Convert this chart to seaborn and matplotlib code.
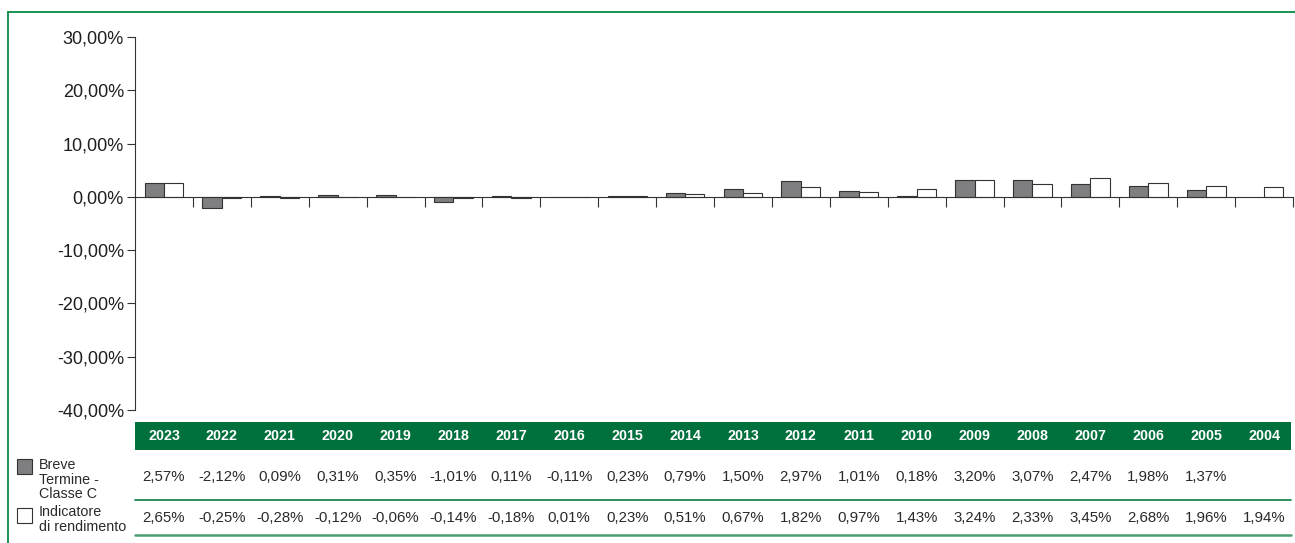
import numpy as np
import pandas as pd
import matplotlib.pyplot as plt
import matplotlib.transforms as mtransforms
from matplotlib.lines import Line2D
from matplotlib.patches import Rectangle
import seaborn as sns

# Dati
anni = ["2023", "2022", "2021", "2020", "2019", "2018", "2017", "2016", "2015", "2014",
        "2013", "2012", "2011", "2010", "2009", "2008", "2007", "2006", "2005", "2004"]
fondo = [2.57, -2.12, 0.09, 0.31, 0.35, -1.01, 0.11, -0.11, 0.23, 0.79,
         1.50, 2.97, 1.01, 0.18, 3.20, 3.07, 2.47, 1.98, 1.37, np.nan]
indicatore = [2.65, -0.25, -0.28, -0.12, -0.06, -0.14, -0.18, 0.01, 0.23, 0.51,
              0.67, 1.82, 0.97, 1.43, 3.24, 2.33, 3.45, 2.68, 1.96, 1.94]
serie = ["Breve\nTermine -\nClasse C", "Indicatore\ndi rendimento"]
y_ticks = [30, 20, 10, 0, -10, -20, -30, -40]

VERDE = "#00703c"
GRIGIO = "#7f7f81"
BORDO = "#333333"

sns.set_theme(style="white")
plt.rcParams["font.family"] = ["Liberation Sans", "DejaVu Sans"]

df = pd.DataFrame({
    "anno": anni * 2,
    "valore": fondo + indicatore,
    "serie": [serie[0]] * len(anni) + [serie[1]] * len(anni),
})

W, H = 1295, 543
fig = plt.figure(figsize=(W / 100, H / 100), dpi=100)


def fx(px):
    return px / W


def fy(px):
    return 1 - px / H


ax = fig.add_axes([fx(135), fy(410), fx(1293) - fx(135), fy(37) - fy(410)])

sns.barplot(data=df, x="anno", y="valore", hue="serie", order=anni,
            palette=[GRIGIO, "white"], width=0.67, edgecolor=BORDO,
            linewidth=0.8, legend=False, ax=ax, saturation=1)

ax.set_xlim(-0.5, len(anni) - 0.5)
ax.set_ylim(-40, 30)
ax.set_yticks(y_ticks)
ax.set_yticklabels([f"{v:.2f}%".replace(".", ",") for v in y_ticks], fontsize=13, color="#1e1e1e")
ax.set_xticks(np.arange(len(anni)) + 0.5)
ax.set_xticklabels([])
ax.set_xlabel("")
ax.set_ylabel("")

for s in ["top", "right"]:
    ax.spines[s].set_visible(False)
ax.spines["left"].set_color(BORDO)
ax.spines["left"].set_linewidth(0.8)
ax.spines["bottom"].set_position(("data", 0))
ax.spines["bottom"].set_color(BORDO)
ax.spines["bottom"].set_linewidth(0.8)
ax.tick_params(axis="y", direction="out", length=6, width=0.8, color=BORDO, pad=2, left=True)
ax.tick_params(axis="x", direction="out", length=7, width=0.8, color=BORDO, bottom=True)

# Tabella sotto il grafico
trans = mtransforms.blended_transform_factory(ax.transData, fig.transFigure)
fig.patches.append(Rectangle((fx(135), fy(450)), fx(1291) - fx(135), fy(422) - fy(450),
                             transform=fig.transFigure, facecolor=VERDE, edgecolor="none"))
for i, a in enumerate(anni):
    fig.text(i, fy(436), a, transform=trans, ha="center", va="center",
             color="white", fontsize=10.3, fontweight="bold")
    for vals, ypx in [(fondo, 477), (indicatore, 518)]:
        v = vals[i]
        if not np.isnan(v):
            fig.text(i, fy(ypx), f"{v:.2f}%".replace(".", ","), transform=trans,
                     ha="center", va="center", fontsize=10.8, color="#2a2a2a")

fig.add_artist(Line2D([fx(135), fx(1291)], [fy(500), fy(500)], color="#0a7a3e", lw=1.2))
fig.add_artist(Line2D([fx(135), fx(1291)], [fy(535), fy(535)], color="#4e9c72", lw=1.8))

# Legenda
fig.patches.append(Rectangle((fx(17), fy(474)), fx(15), fy(459) - fy(474),
                             transform=fig.transFigure, facecolor=GRIGIO, edgecolor=BORDO, lw=0.8))
fig.patches.append(Rectangle((fx(17), fy(523)), fx(15), fy(508) - fy(523),
                             transform=fig.transFigure, facecolor="white", edgecolor=BORDO, lw=0.8))
fig.text(fx(39), fy(458), serie[0], ha="left", va="top", fontsize=10.3, color="#2a2a2a", linespacing=1.05)
fig.text(fx(39), fy(505), serie[1], ha="left", va="top", fontsize=10.3, color="#2a2a2a", linespacing=1.05)

# Cornice verde
fig.add_artist(Line2D([fx(8), fx(8)], [0, fy(12)], color="#0a8a45", lw=1.3))
fig.add_artist(Line2D([fx(8), 1], [fy(12), fy(12)], color="#0a8a45", lw=1.3))

fig.savefig("out.png", dpi=100)
